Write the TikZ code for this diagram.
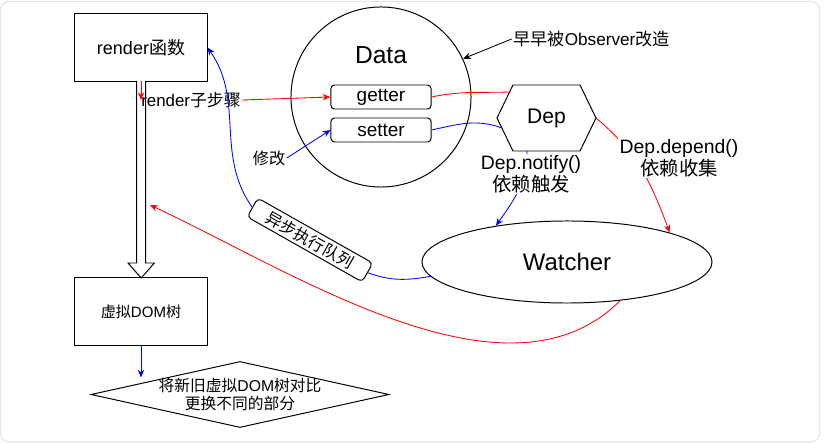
\documentclass[tikz,border=0pt]{standalone}
\usepackage{fontspec}
\setmainfont{Liberation Sans}
\newfontfamily\zh{Noto Sans CJK SC}
\usetikzlibrary{arrows.meta,shapes,positioning}

\begin{document}
\begin{tikzpicture}[x=0.025cm, y=0.025cm, >={Stealth[length=5.5pt,width=4.5pt]},
  box/.style={draw, line width=0.7pt, minimum width=3.3cm, minimum height=1.675cm, inner sep=0pt},
  field/.style={draw, rounded corners=2.5pt, line width=0.7pt, minimum width=2.5cm, minimum height=0.6cm, inner sep=0pt, font=\fontsize{13.5}{16}\selectfont},
  lbl/.style={inner sep=1pt, align=center},
  redline/.style={red, line width=0.6pt},
  blueline/.style={blue, line width=0.6pt}]
  \useasboundingbox (0,0) rectangle (824,-445);
  \draw[gray!20, line width=0.8pt, rounded corners=6pt] (0.5,-1.5) rectangle (819.5,-442);

  % left column
  \node[box, font=\fontsize{12.8}{15}\selectfont] (render) at (141,-47.5) {render{\zh 函数}};
  \node[box, font=\fontsize{10.7}{13}\selectfont] (vdom) at (141,-311.5) {{\zh 虚拟}DOM{\zh 树}};
  \node[draw, diamond, line width=0.7pt, minimum width=7.45cm, minimum height=1.65cm, inner sep=0pt,
    label={[align=center, font=\fontsize{11.2}{13}\selectfont]center:{{\zh 将新旧虚拟}DOM{\zh 树对比}\\{\zh 更换不同的部分}}}] (diff) at (240,-394.5) {};
  \draw[line width=0.7pt, fill=white] (136.7,-81) -- (136.7,-263) -- (128,-263) -- (141.2,-278) -- (154.4,-263) -- (145.7,-263) -- (145.7,-81);

  % Data
  \node[circle, draw, line width=0.7pt, minimum size=4.5cm, inner sep=0pt] (data) at (381,-97) {};
  \node[font=\fontsize{17.5}{20}\selectfont] (dataname) at (381,-55) {Data};
  \node[field] (getter) at (381,-97) {getter};
  \node[field] (setter) at (381,-130) {setter};

  % Dep
  \draw[line width=0.7pt] (497,-118) -- (513,-85) -- (580,-85) -- (596,-118) -- (580,-151) -- (513,-151) -- cycle;
  \node[font=\fontsize{15}{18}\selectfont] (dep) at (546.5,-118) {Dep};
  \coordinate (depA) at (509.5,-92);
  \coordinate (depB) at (502,-128);
  \coordinate (depE) at (596,-118);
  \coordinate (depS) at (527,-151);

  \node[ellipse, draw, line width=0.7pt, minimum width=7.25cm, minimum height=2.05cm, inner sep=0pt, font=\fontsize{17}{20}\selectfont] (watcher) at (567,-262) {Watcher};
  \node[draw, fill=white, rounded corners=3pt, line width=0.7pt, rotate=-29.5, minimum width=3.3cm, minimum height=0.54cm, inner sep=0pt, font=\fontsize{11.5}{13}\selectfont\zh] (queue) at (310,-240) {异步执行队列};

  \node[lbl, font=\fontsize{12}{14}\selectfont] (substep) at (191,-100) {render{\zh 子步骤}};
  \node[lbl, font=\fontsize{11.5}{13}\selectfont\zh] (modify) at (269,-158) {修改};
  \node[lbl, font=\fontsize{12.2}{14}\selectfont] (note) at (591.5,-39) {{\zh 早早被}Observer{\zh 改造}};
  \coordinate (shaft) at (150,-205);

  % connectors
  \draw[line width=0.6pt, ->] (note.west) -- (data.25);
  \draw[redline, ->] (render.south) -- (141,-100);
  \draw[redline, ->] (substep.east) -- (getter.west);
  \draw[redline] (getter.east) to[out=12, in=182] (depA);
  \draw[blueline] (setter.east) to[out=12, in=160] (depB);
  \draw[blueline, ->] (modify.east) -- (setter.west);
  \draw[redline, ->] (depE) to[out=-40, in=110] (watcher.16);
  \draw[blueline, ->] (depS) to[out=-90, in=55] (watcher.153);
  \draw[blueline] (watcher.186) to[out=190, in=-20] (queue.east);
  \draw[blueline, ->] (queue.west) to[out=125, in=-55] (render.east);
  \draw[redline, ->] (watcher.-36) to[out=225, in=-25, looseness=0.85] (shaft);
  \draw[blueline, ->] (vdom.south) -- ++(0,-32);

  \node[lbl, fill=white, font=\fontsize{13.8}{15.6}\selectfont] (notify) at (531,-174) {Dep.notify()\\{\zh 依赖触发}};
  \node[lbl, fill=white, font=\fontsize{13.8}{15.6}\selectfont] (depend) at (679,-158) {Dep.depend()\\{\zh 依赖收集}};
\end{tikzpicture}
\end{document}
